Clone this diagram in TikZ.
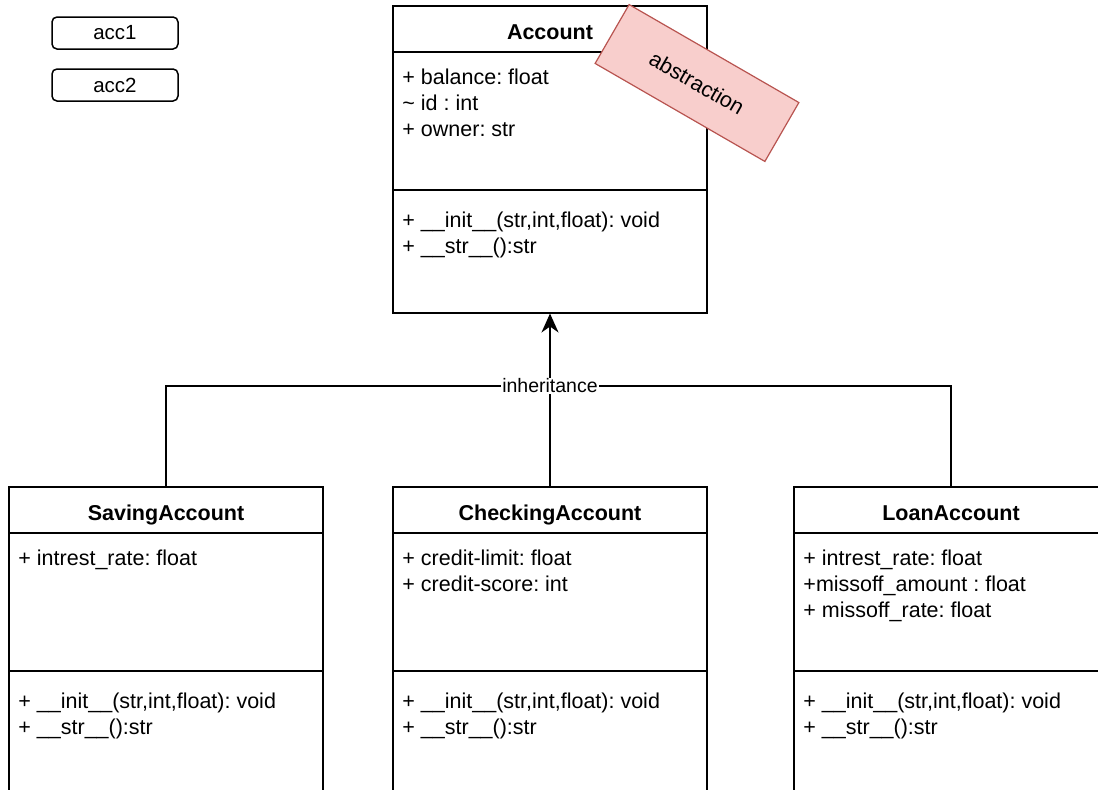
\documentclass[tikz,border=0pt]{standalone}
\usepackage{fontspec}
\setmainfont{Liberation Sans}
\frenchspacing
\usetikzlibrary{arrows.meta,calc}
\definecolor{absfill}{HTML}{F8CECC}
\definecolor{absline}{HTML}{B85450}
\tikzset{
  cls/.style={draw,line width=1.5pt,minimum width=314pt,anchor=north,inner sep=0pt},
  ttl/.style={font=\fontsize{21.5}{26}\selectfont\bfseries,anchor=base},
  mem/.style={font=\fontsize{21.5}{26}\selectfont,anchor=base west,inner sep=0pt},
  obj/.style={draw,line width=1.5pt,rounded corners=5pt,minimum width=126pt,minimum height=32pt,font=\fontsize{20.5}{24}\selectfont},
  note/.style={draw=absline,fill=absfill,line width=1.2pt,rotate=-30,minimum width=196pt,minimum height=68pt,font=\fontsize{21.5}{26}\selectfont},
}
\begin{document}
\begin{tikzpicture}[x=1pt,y=-1pt]
\useasboundingbox(0,0)rectangle(1098,790);
\clip(0,0)rectangle(1098,790);
% objects
\node[obj](acc1)at(115,33){acc1};
\node[obj](acc2)at(115,85){acc2};
% classes
\node[cls,minimum height=307pt](account)at(550,5){};
\node[cls,minimum height=320pt](saving)at(166,486){};
\node[cls,minimum height=320pt](checking)at(550,486){};
\node[cls,minimum height=320pt](loan)at(951,486){};
\foreach \c/\t in {account/Account,saving/SavingAccount,checking/CheckingAccount,loan/LoanAccount}{
  \node[ttl](\c-t)at($(\c.north)+(0,34)$){\t};
  \draw[line width=1.5pt]($(\c.north west)+(0,47)$)--($(\c.north east)+(0,47)$);
  \draw[line width=1.5pt]($(\c.north west)+(0,185)$)--($(\c.north east)+(0,185)$);
  \node[mem](\c-m1)at($(\c.north west)+(10,222)$){+ \_\_init\_\_(str,int,float): void};
  \node[mem](\c-m2)at($(\c.north west)+(10,248)$){+ \_\_str\_\_():str};
}
% attributes
\foreach \a[count=\i] in {+ balance: float,\textasciitilde{} id : int,+ owner: str}
  \node[mem](account-a\i)at($(account.north west)+(10,53+26*\i)$){\a};
\node[mem](saving-a1)at($(saving.north west)+(10,79)$){+ intrest\_rate: float};
\foreach \a[count=\i] in {+ credit-limit: float,+ credit-score: int}
  \node[mem](checking-a\i)at($(checking.north west)+(10,53+26*\i)$){\a};
\foreach \a[count=\i] in {+ intrest\_rate: float,+missoff\_amount : float,+ missoff\_rate: float}
  \node[mem](loan-a\i)at($(loan.north west)+(10,53+26*\i)$){\a};
% inheritance
\node[fill=white,inner sep=1pt,font=\fontsize{19.5}{23}\selectfont](inh)at(550,386){inheritance};
\draw[line width=1.6pt,-{Stealth[length=19pt,width=17pt,inset=6pt]}](inh.north)--(account.south);
\draw[line width=1.2pt](saving.north)|-(inh.west);
\draw[line width=1.2pt](loan.north)|-(inh.east);
\draw[line width=1.2pt](checking.north)--(inh.south);
% note
\node[note](abs)at(697,83){abstraction};
\end{tikzpicture}
\end{document}
